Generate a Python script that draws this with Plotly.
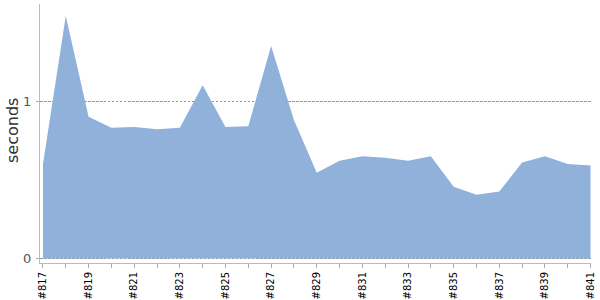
import plotly.graph_objects as go

builds = ["#%d" % n for n in range(817, 842)]
seconds = [0.60, 1.54, 0.90, 0.83, 0.835, 0.82, 0.83, 1.10, 0.835, 0.84,
           1.35, 0.88, 0.545, 0.62, 0.65, 0.64, 0.62, 0.65, 0.455, 0.405,
           0.425, 0.61, 0.65, 0.60, 0.59]
tick_text = [b if i % 2 == 0 else "" for i, b in enumerate(builds)]

fig = go.Figure()
fig.add_trace(go.Scatter(
    x=builds, y=seconds, mode="lines", fill="tozeroy",
    line=dict(width=0, color="rgb(143,177,218)"),
    fillcolor="rgb(143,177,218)", hoverinfo="skip", showlegend=False,
))

fig.update_layout(
    template="none",
    width=600, height=300,
    margin=dict(l=40, r=9, t=4, b=37, pad=0),
    paper_bgcolor="white", plot_bgcolor="white",
    font=dict(family="DejaVu Sans", color="#333"),
    xaxis=dict(
        type="category", range=[-0.13, 24.02], automargin=False,
        tickmode="array", tickvals=builds, ticktext=tick_text,
        tickangle=-90, tickfont=dict(size=10, color="black"),
        ticks="outside", ticklen=4, tickcolor="#aaa", tickwidth=1,
        showline=True, linecolor="#bbb", linewidth=1,
        showgrid=False, zeroline=False,
    ),
    yaxis=dict(
        range=[-0.0286, 1.616], automargin=False,
        tickvals=[0, 1], ticktext=["0", "1"],
        tickfont=dict(size=13, color="#555"), ticklabelstandoff=2,
        ticks="outside", ticklen=3, tickcolor="#aaa", tickwidth=1,
        showline=True, linecolor="#bbb", linewidth=1,
        showgrid=True, gridcolor="#999", griddash="2.5px,1.5px", gridwidth=1,
        zeroline=False,
    ),
    annotations=[dict(
        text="seconds", textangle=-90, showarrow=False,
        xref="paper", yref="paper", x=-0.0499, y=0.5116,
        xanchor="center", yanchor="middle",
        font=dict(size=16, color="#333", family="DejaVu Sans"),
    )],
)

fig.write_html("out.html")
